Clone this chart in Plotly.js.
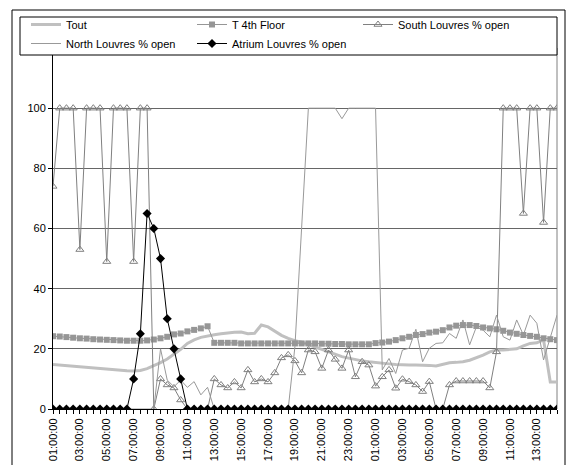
<!DOCTYPE html>
<html>
<head>
<meta charset="utf-8">
<script src="https://cdn.plot.ly/plotly-3.0.1.min.js"></script>
<style>
  html, body { margin: 0; padding: 0; background: #ffffff; }
  #chart { width: 571px; height: 465px; }
</style>
</head>
<body>
<div id="chart"></div>
<script>
// Half-hourly timestamps (01:00 day 1 to 14:30 day 2)
const times = [
  '2000-01-01 01:00','2000-01-01 01:30','2000-01-01 02:00','2000-01-01 02:30','2000-01-01 03:00','2000-01-01 03:30',
  '2000-01-01 04:00','2000-01-01 04:30','2000-01-01 05:00','2000-01-01 05:30','2000-01-01 06:00','2000-01-01 06:30',
  '2000-01-01 07:00','2000-01-01 07:30','2000-01-01 08:00','2000-01-01 08:30','2000-01-01 09:00','2000-01-01 09:30',
  '2000-01-01 10:00','2000-01-01 10:30','2000-01-01 11:00','2000-01-01 11:30','2000-01-01 12:00','2000-01-01 12:30',
  '2000-01-01 13:00','2000-01-01 13:30','2000-01-01 14:00','2000-01-01 14:30','2000-01-01 15:00','2000-01-01 15:30',
  '2000-01-01 16:00','2000-01-01 16:30','2000-01-01 17:00','2000-01-01 17:30','2000-01-01 18:00','2000-01-01 18:30',
  '2000-01-01 19:00','2000-01-01 19:30','2000-01-01 20:00','2000-01-01 20:30','2000-01-01 21:00','2000-01-01 21:30',
  '2000-01-01 22:00','2000-01-01 22:30','2000-01-01 23:00','2000-01-01 23:30','2000-01-02 00:00','2000-01-02 00:30',
  '2000-01-02 01:00','2000-01-02 01:30','2000-01-02 02:00','2000-01-02 02:30','2000-01-02 03:00','2000-01-02 03:30',
  '2000-01-02 04:00','2000-01-02 04:30','2000-01-02 05:00','2000-01-02 05:30','2000-01-02 06:00','2000-01-02 06:30',
  '2000-01-02 07:00','2000-01-02 07:30','2000-01-02 08:00','2000-01-02 08:30','2000-01-02 09:00','2000-01-02 09:30',
  '2000-01-02 10:00','2000-01-02 10:30','2000-01-02 11:00','2000-01-02 11:30','2000-01-02 12:00','2000-01-02 12:30',
  '2000-01-02 13:00','2000-01-02 13:30','2000-01-02 14:00','2000-01-02 14:30'
];

const tout = [
  14.8,14.6,14.5,14.2,13.9,13.7,13.5,13.4,13.3,13.1,12.9,12.7,
  12.6,12.8,13.4,14.3,15.4,16.6,18.2,19.8,21.8,23.0,23.8,24.3,
  24.7,25.0,25.3,25.5,25.6,25.0,25.2,27.9,27.3,25.8,24.5,23.5,
  22.7,22.2,21.5,20.6,19.8,19.0,18.2,17.4,16.9,16.4,16.0,15.7,
  15.4,15.2,15.0,14.8,14.6,14.6,14.6,14.6,14.5,14.3,14.8,15.4,
  15.5,15.7,16.2,17.0,17.9,19.0,19.6,19.6,19.7,20.0,21.0,21.8,
  22.0,23.0,9.0,9.0
];

const t4th = [
  24.2,24.1,23.9,23.7,23.5,23.4,23.2,23.1,23.0,22.9,22.8,22.7,
  22.7,22.7,22.8,23.1,23.5,24.0,24.8,25.1,25.8,26.3,26.8,27.5,
  22.0,22.0,22.0,22.0,21.8,21.8,21.8,21.8,21.8,21.8,21.8,21.8,
  21.8,21.8,21.8,21.8,21.7,21.7,21.6,21.6,21.5,21.5,21.5,21.5,
  21.9,22.1,22.4,22.9,23.5,24.0,24.6,24.9,25.4,25.7,26.2,27.1,
  27.7,27.9,27.9,27.6,27.1,26.8,26.5,26.0,25.4,25.0,24.6,24.3,
  24.0,23.5,23.2,22.9
];

const south = [
  74,100,100,100,53,100,100,100,49,100,100,100,
  49,100,100,0,10,8,7,3,0,0,0,0,
  10,8,7,9,7,13,9,10,9,12,17,18,
  16,12,19.6,19,13.5,19.6,16.5,13.5,19.6,10.7,15.7,14.6,
  7.6,10.7,13,6.9,9.9,9.1,8,5.8,9.1,0,0,8,
  9.3,9.3,9.3,9.3,9.3,7,19,100,100,100,65,100,
  100,62,100,100
];

const north = [
  0,0,0,0,0,0,0,0,0,0,0,0,
  0,0,0,0,20,9.6,7.4,9.6,7.2,9.1,4.7,7.2,
  0,0,0,0,0,0,0,0,0,0,0,0,
  20.7,60,100,100,100,100,100,96.5,100,100,100,100,
  100,13,16.8,11.8,19.6,20.2,26.5,15.7,20.2,21.8,22,25.1,
  23.5,29.6,21.3,27.3,26.2,24,31.2,24,22.9,29.6,24.6,31.2,
  28.5,16.3,23.5,31.2
];

const atrium = [
  0,0,0,0,0,0,0,0,0,0,0,0,
  10,25,65,60,50,30,20,10,0,0,0,0,
  0,0,0,0,0,0,0,0,0,0,0,0,
  0,0,0,0,0,0,0,0,0,0,0,0,
  0,0,0,0,0,0,0,0,0,0,0,0,
  0,0,0,0,0,0,0,0,0,0,0,0,
  0,0,0,0
];

const FONT = 'Liberation Sans, Arial, sans-serif';

const traces = [
  {name: 'Tout', x: times, y: tout, type: 'scatter', mode: 'lines',
   line: {color: '#c0c0c0', width: 3}},
  {name: 'T 4th Floor', x: times, y: t4th, type: 'scatter', mode: 'lines+markers',
   line: {color: '#969696', width: 1},
   marker: {symbol: 'square', size: 6, color: '#969696'}},
  {name: 'South Louvres % open', x: times, y: south, type: 'scatter', mode: 'lines+markers',
   line: {color: '#808080', width: 1},
   marker: {symbol: 'triangle-up-open', size: 7, color: '#808080', line: {width: 1}}},
  {name: 'North Louvres % open', x: times, y: north, type: 'scatter', mode: 'lines',
   line: {color: '#999999', width: 1}},
  {name: 'Atrium Louvres % open', x: times, y: atrium, type: 'scatter', mode: 'lines+markers',
   line: {color: '#000000', width: 1},
   marker: {symbol: 'diamond', size: 7, color: '#000000'}}
];

// plot area pixel frame: x 53..557, y 48..409
const L = 53, R = 557, T = 48, B = 409;
const px = v => (v - L) / (R - L);
const py = v => (B - v) / (B - T);

const layout = {
  width: 571, height: 465,
  margin: {l: L, r: 571 - R, t: T, b: 465 - B, pad: 0, autoexpand: false},
  paper_bgcolor: '#ffffff', plot_bgcolor: '#ffffff',
  font: {family: FONT, size: 11, color: '#000000'},
  showlegend: true,
  legend: {
    orientation: 'h', x: px(26), y: py(10), xanchor: 'left', yanchor: 'top',
    bgcolor: 'rgba(0,0,0,0)', borderwidth: 0,
    font: {family: FONT, size: 11, color: '#000000'},
    entrywidth: 121, entrywidthmode: 'pixels', itemwidth: 30,
    tracegroupgap: 0, traceorder: 'normal'
  },
  xaxis: {
    type: 'date',
    range: ['2000-01-01 01:00', '2000-01-02 14:30'],
    dtick: 7200000, tick0: '2000-01-01 01:00',
    tickformat: '%H:%M:%S', tickangle: -90,
    ticks: 'outside', ticklen: 4, tickcolor: '#000', tickwidth: 1,
    minor: {dtick: 1800000, ticks: 'outside', ticklen: 4, tickcolor: '#000', showgrid: false},
    showline: true, linecolor: '#000', linewidth: 1,
    showgrid: false, zeroline: false,
    tickfont: {family: FONT, size: 11, color: '#000'}
  },
  yaxis: {
    range: [0, 120], dtick: 20, tick0: 0,
    tickvals: [0, 20, 40, 60, 80, 100],
    ticks: 'outside', ticklen: 4, tickcolor: '#000',
    showline: true, linecolor: '#000', linewidth: 1,
    showgrid: true, gridcolor: '#666666', gridwidth: 1,
    zeroline: false,
    tickfont: {family: FONT, size: 11, color: '#000'}
  },
  shapes: [
    // plot area right edge
    {type: 'line', xref: 'paper', yref: 'paper', x0: 1, x1: 1, y0: 0, y1: 1,
     line: {color: '#808080', width: 1}, layer: 'below'},
    // legend box
    {type: 'rect', xref: 'paper', yref: 'paper', x0: px(20), x1: px(557), y0: py(17), y1: py(55),
     fillcolor: '#ffffff', line: {color: '#000000', width: 1}, layer: 'above'},
    // outer chart border
    {type: 'rect', xref: 'paper', yref: 'paper', x0: px(12), x1: px(565), y0: py(10), y1: py(475),
     fillcolor: 'rgba(0,0,0,0)', line: {color: '#000000', width: 1}, layer: 'above'}
  ]
};

Plotly.newPlot('chart', traces, layout, {displayModeBar: false, staticPlot: true});
</script>
</body>
</html>
